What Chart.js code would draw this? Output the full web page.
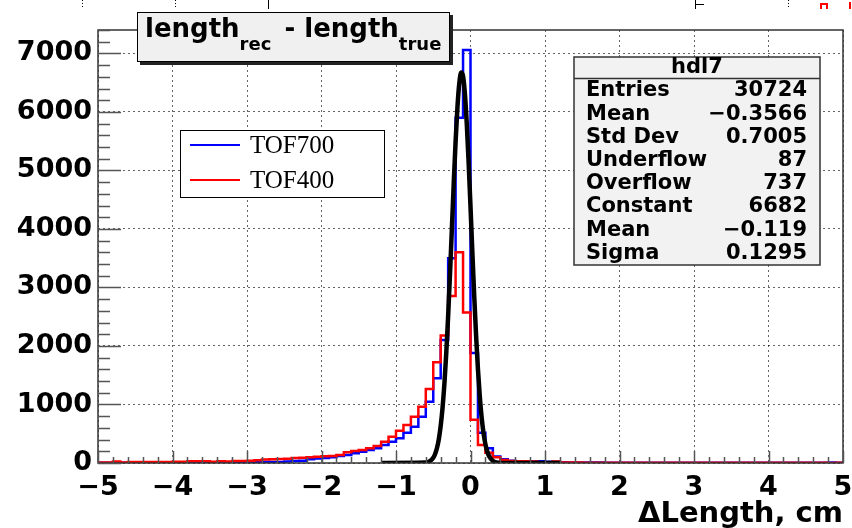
<!DOCTYPE html>
<html>
<head>
<meta charset="utf-8">
<script src="https://cdn.jsdelivr.net/npm/chart.js@4.4.1/dist/chart.umd.min.js"></script>
<style>
  html, body { margin: 0; padding: 0; background: #fff; }
  #wrap { width: 852px; height: 528px; position: relative; }
</style>
</head>
<body>
<div id="wrap"><canvas id="c"></canvas></div>
<script>
// bin edges of the histograms (100 bins, -5 .. 5)
const binEdges = [
    -5.0, -4.9, -4.8, -4.7, -4.6, -4.5, -4.4, -4.3, -4.2, -4.1,
    -4.0, -3.9, -3.8, -3.7, -3.6, -3.5, -3.4, -3.3, -3.2, -3.1,
    -3.0, -2.9, -2.8, -2.7, -2.6, -2.5, -2.4, -2.3, -2.2, -2.1,
    -2.0, -1.9, -1.8, -1.7, -1.6, -1.5, -1.4, -1.3, -1.2, -1.1,
    -1.0, -0.9, -0.8, -0.7, -0.6, -0.5, -0.4, -0.3, -0.2, -0.1,
    0.0, 0.1, 0.2, 0.3, 0.4, 0.5, 0.6, 0.7, 0.8, 0.9,
    1.0, 1.1, 1.2, 1.3, 1.4, 1.5, 1.6, 1.7, 1.8, 1.9,
    2.0, 2.1, 2.2, 2.3, 2.4, 2.5, 2.6, 2.7, 2.8, 2.9,
    3.0, 3.1, 3.2, 3.3, 3.4, 3.5, 3.6, 3.7, 3.8, 3.9,
    4.0, 4.1, 4.2, 4.3, 4.4, 4.5, 4.6, 4.7, 4.8, 4.9,
    5.0
];

// TOF700 counts per bin
const tof700 = [
    3, 3, 5, 5, 5, 6, 6, 8, 8, 10,
    8, 8, 10, 8, 10, 10, 12, 10, 12, 12,
    12, 12, 15, 15, 18, 25, 35, 40, 65, 75,
    85, 100, 120, 137, 165, 194, 222, 250, 308, 365,
    422, 518, 621, 792, 1048, 1450, 2100, 3500, 5900, 7060,
    1880, 518, 250, 110, 63, 40, 32, 28, 25, 30,
    20, 15, 12, 10, 10, 8, 8, 8, 6, 6,
    6, 5, 5, 5, 5, 4, 4, 4, 4, 4,
    3, 3, 3, 3, 3, 3, 3, 3, 3, 3,
    3, 3, 3, 3, 3, 3, 3, 3, 8, 3
];

// TOF400 counts per bin
const tof400 = [
    10, 10, 25, 8, 15, 15, 15, 18, 18, 18,
    20, 20, 28, 28, 28, 20, 28, 25, 35, 35,
    38, 45, 60, 65, 70, 72, 85, 88, 100, 105,
    115, 120, 135, 185, 205, 222, 250, 290, 365, 450,
    553, 650, 792, 962, 1265, 1720, 2180, 2855, 3600, 2570,
    740, 308, 177, 97, 51, 35, 30, 28, 25, 12,
    10, 25, 10, 8, 8, 6, 6, 6, 5, 5,
    5, 5, 5, 5, 5, 5, 5, 5, 5, 5,
    5, 5, 5, 5, 5, 5, 5, 5, 5, 5,
    5, 5, 5, 5, 5, 5, 5, 5, 2, 5
];

// gaussian fit curve
const fitX = [-1.2, -0.6, -0.55, -0.5, -0.475, -0.45, -0.425, -0.4, -0.375, -0.35, -0.325, -0.3,
    -0.275, -0.25, -0.225, -0.2, -0.175, -0.15, -0.125, -0.1, -0.075, -0.05, -0.025, 0.0,
    0.025, 0.05, 0.075, 0.1, 0.125, 0.15, 0.175, 0.2, 0.225, 0.25, 0.3, 0.35, 0.4, 1.2];
const fitY = [0, 7, 26, 88, 153, 255, 410, 635, 947, 1361, 1886, 2516,
    3234, 4005, 4780, 5495, 6085, 6494, 6675, 6611, 6307, 5798, 5135, 4381,
    3600, 2852, 2176, 1599, 1133, 773, 508, 322, 196, 115, 36, 9, 2, 0];

const legendLabels = ['TOF700', 'TOF400'];
const statTitle = 'hdl7';
const statLabels = ['Entries', 'Mean', 'Std Dev', 'Underflow', 'Overflow', 'Constant', 'Mean', 'Sigma'];
const statValues = ['30724', '\u22120.3566', '0.7005', '87', '737', '6682', '\u22120.119', '0.1295'];

const xTicks = [-5, -4, -3, -2, -1, 0, 1, 2, 3, 4, 5];
const yTicks = [0, 1000, 2000, 3000, 4000, 5000, 6000, 7000];

// histogram outline: left edges + closing right edge
function histPoints(values) {
    const pts = values.map((v, i) => ({ x: binEdges[i], y: v }));
    pts.push({ x: binEdges[values.length], y: values[values.length - 1] });
    return pts;
}

const rootDecor = {
    id: 'rootDecor',
    afterDraw(chart) {
        const ctx = chart.ctx;
        const a = chart.chartArea;
        const xs = chart.scales.x, ys = chart.scales.y;
        ctx.save();

        // frame
        ctx.strokeStyle = '#333';
        ctx.lineWidth = 1.5;
        ctx.strokeRect(a.left, a.top, a.right - a.left, a.bottom - a.top);

        // tick marks drawn inside the frame
        ctx.strokeStyle = '#555';
        ctx.lineWidth = 1.5;
        ctx.beginPath();
        for (let v = 0; v <= 7400; v += 200) {
            const y = Math.round(ys.getPixelForValue(v)) + 0.5;
            const len = (v % 1000 === 0) ? 23 : 12;
            ctx.moveTo(a.left, y);
            ctx.lineTo(a.left + len, y);
        }
        for (let i = 0; i <= 50; i++) {
            const v = -5 + i * 0.2;
            const x = Math.round(xs.getPixelForValue(v)) + 0.5;
            const len = (i % 5 === 0) ? 12 : 6;
            ctx.moveTo(x, a.bottom);
            ctx.lineTo(x, a.bottom - len);
        }
        ctx.stroke();

        // title box
        ctx.fillStyle = '#222';
        ctx.fillRect(140, 15, 313, 50);
        ctx.fillStyle = '#f0f0f0';
        ctx.fillRect(137, 12, 313, 50);
        ctx.strokeStyle = '#000';
        ctx.lineWidth = 1;
        ctx.strokeRect(137.5, 12.5, 312, 49);
        ctx.fillStyle = '#000';
        ctx.textBaseline = 'alphabetic';
        ctx.textAlign = 'left';
        let tx = 145;
        const parts = [['length', 26, 37], ['rec', 18, 50], [' - length', 26, 37], ['true', 18, 50]];
        parts.forEach(([s, size, base]) => {
            ctx.font = 'bold ' + size + 'px "DejaVu Sans"';
            ctx.fillText(s, tx, base);
            tx += ctx.measureText(s).width + (size === 18 ? 4 : 0);
        });

        // legend
        ctx.fillStyle = '#fff';
        ctx.fillRect(180, 130, 205, 68);
        ctx.strokeStyle = '#000';
        ctx.lineWidth = 1;
        ctx.strokeRect(180.5, 130.5, 204, 67);
        const legendColors = [chart.data.datasets[2].borderColor, chart.data.datasets[1].borderColor];
        legendLabels.forEach((lab, i) => {
            const y = 145 + i * 35;
            ctx.strokeStyle = legendColors[i];
            ctx.lineWidth = 2;
            ctx.beginPath();
            ctx.moveTo(190, y);
            ctx.lineTo(240, y);
            ctx.stroke();
            ctx.fillStyle = '#000';
            ctx.font = '25px "Liberation Serif"';
            ctx.textBaseline = 'middle';
            ctx.fillText(lab, 250, y + 1);
        });

        // stats box
        ctx.fillStyle = '#f2f2f2';
        ctx.fillRect(574, 57, 246, 208);
        ctx.strokeStyle = '#333';
        ctx.lineWidth = 1.5;
        ctx.strokeRect(574, 57, 246, 208);
        ctx.beginPath();
        ctx.moveTo(574, 78.5);
        ctx.lineTo(820, 78.5);
        ctx.stroke();
        ctx.fillStyle = '#000';
        ctx.font = 'bold 21px "DejaVu Sans"';
        ctx.textBaseline = 'middle';
        ctx.textAlign = 'center';
        ctx.fillText(statTitle, 697, 68);
        statLabels.forEach((lab, i) => {
            const y = 91 + i * 23.2;
            ctx.textAlign = 'left';
            ctx.fillText(lab, 586, y);
            ctx.textAlign = 'right';
            ctx.fillText(statValues[i], 807, y);
        });

        // remnants of the pad above
        ctx.lineWidth = 1;
        ctx.strokeStyle = '#000';
        ctx.setLineDash([1, 2]);
        ctx.beginPath();
        [82, 175, 788].forEach(x => { ctx.moveTo(x + 0.5, 0); ctx.lineTo(x + 0.5, 8); });
        ctx.stroke();
        ctx.setLineDash([]);
        ctx.beginPath();
        ctx.moveTo(268.5, 0); ctx.lineTo(268.5, 9);
        ctx.moveTo(695.5, 0); ctx.lineTo(695.5, 9);
        ctx.moveTo(695.5, 4.5); ctx.lineTo(704, 4.5);
        ctx.stroke();
        ctx.strokeStyle = '#ff0000';
        ctx.lineWidth = 2;
        ctx.beginPath();
        ctx.moveTo(821, 9); ctx.lineTo(821, 4); ctx.lineTo(827, 4); ctx.lineTo(827, 9);
        ctx.moveTo(850, 2); ctx.lineTo(850, 9);
        ctx.stroke();

        ctx.restore();
    }
};

function noPad(scale) {
    scale.paddingLeft = 0;
    scale.paddingRight = 0;
    scale.paddingTop = 0;
    scale.paddingBottom = 0;
}

new Chart(document.getElementById('c'), {
    type: 'line',
    data: {
        datasets: [
            {
                label: 'fit',
                data: fitX.map((x, i) => ({ x: x, y: fitY[i] })),
                borderColor: '#000000',
                borderWidth: 4.5,
                pointRadius: 0,
                cubicInterpolationMode: 'monotone',
                fill: false
            },
            {
                label: legendLabels[1],
                data: histPoints(tof400),
                borderColor: '#ff0000',
                borderWidth: 2.5,
                pointRadius: 0,
                stepped: 'before',
                fill: false
            },
            {
                label: legendLabels[0],
                data: histPoints(tof700),
                borderColor: '#0000ff',
                borderWidth: 2.5,
                pointRadius: 0,
                stepped: 'before',
                fill: false
            }
        ]
    },
    options: {
        responsive: true,
        maintainAspectRatio: false,
        animation: false,
        layout: { padding: { top: 30, right: 9, left: 0, bottom: 0 } },
        plugins: {
            legend: { display: false },
            tooltip: { enabled: false },
            title: { display: false }
        },
        scales: {
            x: {
                type: 'linear',
                min: -5,
                max: 5,
                afterFit: function(scale) { scale.height = 65; noPad(scale); },
                afterBuildTicks: function(scale) { scale.ticks = xTicks.map(v => ({ value: v })); },
                ticks: {
                    font: { family: 'DejaVu Sans', size: 27, weight: 'bold' },
                    color: '#000',
                    padding: 9,
                    maxRotation: 0,
                    autoSkip: false,
                    callback: v => (v < 0 ? '\u2212' + Math.abs(v) : String(v))
                },
                grid: { color: 'rgba(0,0,0,0.6)', lineWidth: 1, drawTicks: false },
                border: { display: false, dash: [2, 3] },
                title: {
                    display: true,
                    text: '\u0394Length, cm',
                    align: 'end',
                    color: '#000',
                    font: { family: 'DejaVu Sans', size: 29, weight: 'bold' },
                    padding: { top: 0, bottom: -4 }
                }
            },
            y: {
                type: 'linear',
                min: 0,
                max: 7400,
                afterFit: function(scale) { scale.width = 98; noPad(scale); },
                afterBuildTicks: function(scale) { scale.ticks = yTicks.map(v => ({ value: v })); },
                ticks: {
                    font: { family: 'DejaVu Sans', size: 27, weight: 'bold' },
                    color: '#000',
                    padding: 6,
                    autoSkip: false,
                    callback: v => String(v)
                },
                grid: { color: 'rgba(0,0,0,0.6)', lineWidth: 1, drawTicks: false },
                border: { display: false, dash: [2, 3] }
            }
        }
    },
    plugins: [rootDecor]
});
</script>
</body>
</html>
